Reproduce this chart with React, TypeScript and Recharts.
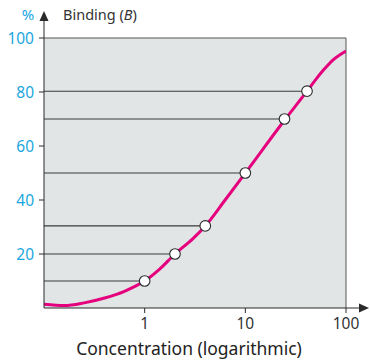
import {
  ComposedChart,
  CartesianGrid,
  Line,
  ReferenceLine,
  Scatter,
  XAxis,
  YAxis,
} from "recharts";

const MAGENTA = "#e5007d";
const BLUE = "#1ba6e0";
const INK = "#2a2a2a";
const PLOT_BG = "#e1e5e6";

// smooth binding curve, concentration (log) vs binding %
const CURVE_CONC = [0.1, 0.16, 0.25, 0.4, 0.63, 0.8, 1, 1.4, 2, 3, 4, 6.3, 10, 25, 41, 50, 60, 75, 100];
const CURVE_BINDING = [1.4, 0.9, 1.9, 3.7, 6.2, 8.0, 10, 14.3, 20, 25.6, 30.4, 40, 50, 70, 80.3, 84.6, 88.2, 92, 95.2];

// marked points with guide lines back to the y axis
const POINT_CONC = [1, 2, 4, 10, 24.5, 41];
const POINT_BINDING = [10, 20, 30.4, 50, 70, 80.3];

const X_TICKS = [1, 10, 100];
const Y_TICKS = [20, 40, 60, 80, 100];
const X_MIN = 0.1;

const curve = CURVE_CONC.map((c, i) => ({ c, b: CURVE_BINDING[i] }));
const points = POINT_CONC.map((c, i) => ({ c, b: POINT_BINDING[i] }));

function OpenDot(props: { cx?: number; cy?: number }) {
  const { cx, cy } = props;
  if (cx == null || cy == null) return null;
  return <circle cx={cx} cy={cy} r={5.3} fill="#fff" stroke={INK} strokeWidth={1.1} />;
}

export default function App() {
  return (
    <div
      style={{
        position: "absolute",
        left: 0,
        top: 0,
        width: 370,
        height: 360,
        fontFamily: "'Noto Sans', sans-serif",
      }}
    >
      <ComposedChart width={370} height={360} margin={{ top: 38, right: 24, left: 0, bottom: 0 }}>
        <CartesianGrid fill={PLOT_BG} horizontal={false} vertical={false} />
        <XAxis
          dataKey="c"
          type="number"
          scale="log"
          domain={[X_MIN, 100]}
          ticks={X_TICKS}
          allowDataOverflow
          height={52}
          tickSize={5}
          tickMargin={5}
          tick={{ fill: "#333", fontSize: 15.5 }}
          stroke={INK}
          label={{
            value: "Concentration (logarithmic)",
            position: "insideBottom",
            offset: 5,
            dx: -6,
            fill: "#222",
            fontSize: 17.5,
          }}
        />
        <YAxis
          dataKey="b"
          type="number"
          domain={[0, 100]}
          ticks={Y_TICKS}
          width={44}
          tickSize={5}
          tickMargin={5}
          tick={{ fill: BLUE, fontSize: 15.5 }}
          stroke={INK}
        />
        <ReferenceLine y={100} stroke="#555" strokeWidth={1} />
        <ReferenceLine x={100} stroke="#555" strokeWidth={1} />
        {points.map((p) => (
          <ReferenceLine
            key={p.c}
            segment={[
              { x: X_MIN, y: p.b },
              { x: p.c, y: p.b },
            ]}
            stroke="#3a3a3a"
            strokeWidth={1.1}
          />
        ))}
        <Line
          data={curve}
          dataKey="b"
          type="monotone"
          stroke={MAGENTA}
          strokeWidth={3}
          dot={false}
          activeDot={false}
          isAnimationActive={false}
        />
        <Scatter data={points} dataKey="b" shape={<OpenDot />} isAnimationActive={false} />
      </ComposedChart>
      <svg
        width={370}
        height={360}
        style={{ position: "absolute", left: 0, top: 0, pointerEvents: "none" }}
      >
        <line x1={44} y1={38} x2={44} y2={20} stroke={INK} strokeWidth={1} />
        <polygon points="44,11 39.5,21 48.5,21" fill={INK} />
        <line x1={346} y1={308} x2={360} y2={308} stroke={INK} strokeWidth={1} />
        <polygon points="369,308 359,303.5 359,312.5" fill={INK} />
        <text x={28} y={20} textAnchor="middle" fill={BLUE} fontSize={15}>
          %
        </text>
        <text x={63} y={20} fill="#333" fontSize={14.5}>
          Binding (<tspan fontStyle="italic">B</tspan>)
        </text>
      </svg>
    </div>
  );
}
